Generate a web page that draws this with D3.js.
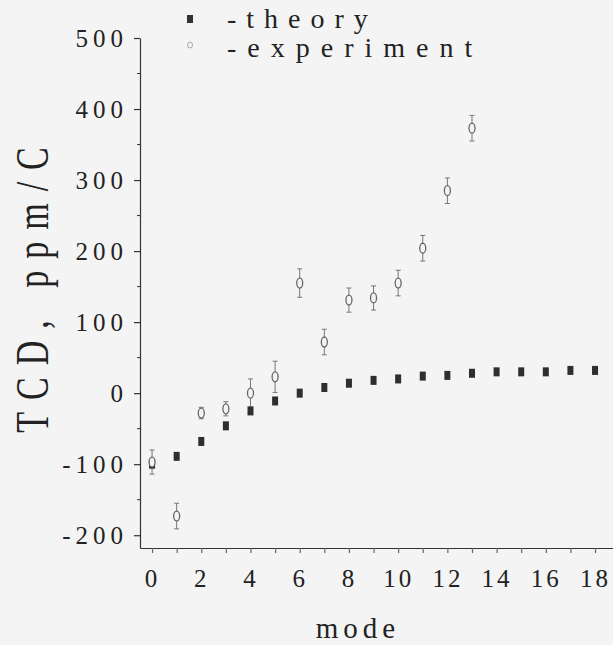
<!DOCTYPE html>
<html>
<head>
<meta charset="utf-8">
<script src="https://cdn.jsdelivr.net/npm/d3@7"></script>
<style>
  body { margin: 0; background: #f4f4f4; }
  svg { display: block; }
  text { font-family: "Liberation Serif", "Times New Roman", serif; fill: #222; }
</style>
</head>
<body>
<div class="chart"></div>
<script>
var theoryMode = [0, 1, 2, 3, 4, 5, 6, 7, 8, 9, 10, 11, 12, 13, 14, 15, 16, 17, 18];
var theoryTCD = [-100, -89, -68, -46, -25, -11, 0, 8, 14, 18, 20, 24, 25, 28, 30, 30, 30, 32, 32];

var expMode = [0, 1, 2, 3, 4, 5, 6, 7, 8, 9, 10, 11, 12, 13];
var expTCD = [-97, -173, -28, -22, 0, 23, 155, 72, 131, 134, 155, 204, 285, 373];
var expErr = [17, 18, 8, 10, 20, 22, 20, 18, 17, 17, 18, 18, 18, 18];

var yTicks = [-200, -100, 0, 100, 200, 300, 400, 500];
var xTickLabels = [0, 2, 4, 6, 8, 10, 12, 14, 16, 18];

document.addEventListener('DOMContentLoaded', function () {
  var width = 613, height = 645;

  var svg = d3.select('div.chart').append('svg')
      .attr('width', width)
      .attr('height', height);

  var xScale = d3.scaleLinear().domain([-0.49, 18.73]).range([140, 613]);
  var yScale = d3.scaleLinear().domain([-218, 500]).range([548, 38]);

  // y axis
  var yAxis = d3.axisLeft(yScale).tickValues(yTicks).tickSize(6).tickPadding(6).tickSizeOuter(0)
      .tickFormat(function (d) { return String(d); });
  var yG = svg.append('g')
      .attr('transform', 'translate(140,0)')
      .call(yAxis);
  yG.selectAll('text')
    .style('font-size', '25px')
    .style('letter-spacing', '5px')
    .attr('fill', '#222');

  // minor y ticks
  svg.append('g').selectAll('line.minor')
    .data(d3.range(-150, 500, 100))
    .enter().append('line')
    .attr('x1', 137).attr('x2', 140)
    .attr('y1', function (d) { return yScale(d); })
    .attr('y2', function (d) { return yScale(d); })
    .attr('stroke', '#333');

  // x axis
  var xAxis = d3.axisBottom(xScale).tickValues(d3.range(0, 19)).tickSize(5).tickPadding(16).tickSizeOuter(0)
      .tickFormat(function (d) { return xTickLabels.indexOf(d) >= 0 ? d : ''; });
  var xG = svg.append('g')
      .attr('transform', 'translate(0,548)')
      .call(xAxis);
  xG.selectAll('text')
    .style('font-size', '25px')
    .style('letter-spacing', '3px')
    .attr('dx', 0)
    .attr('fill', '#222');

  svg.selectAll('.domain, .tick line').attr('stroke', '#333').attr('stroke-width', 1.2);
  xG.selectAll('.tick line').attr('stroke', '#666');

  // axis titles
  svg.append('text')
    .attr('transform', 'translate(48,290) rotate(-90) scale(1,1.35)')
    .attr('text-anchor', 'middle')
    .attr('dx', 6)
    .style('font-size', '34px')
    .style('letter-spacing', '12px')
    .text('TCD, ppm/C');

  svg.append('text')
    .attr('x', 358).attr('y', 638)
    .attr('text-anchor', 'middle')
    .style('font-size', '29px')
    .style('letter-spacing', '5px')
    .text('mode');

  // experiment error bars
  var eb = svg.append('g').attr('stroke', '#777').attr('stroke-width', 1);
  expMode.forEach(function (m, i) {
    var cx = xScale(m);
    var y0 = yScale(expTCD[i] - expErr[i]);
    var y1 = yScale(expTCD[i] + expErr[i]);
    eb.append('line').attr('x1', cx).attr('x2', cx).attr('y1', y0).attr('y2', y1);
    eb.append('line').attr('x1', cx - 2.5).attr('x2', cx + 2.5).attr('y1', y0).attr('y2', y0);
    eb.append('line').attr('x1', cx - 2.5).attr('x2', cx + 2.5).attr('y1', y1).attr('y2', y1);
  });

  // theory squares
  svg.selectAll('rect.theory')
    .data(theoryMode)
    .enter()
    .append('rect')
    .attr('class', 'theory')
    .attr('x', function (d) { return xScale(d) - 3; })
    .attr('y', function (d, i) { return yScale(theoryTCD[i]) - 4.5; })
    .attr('width', 6)
    .attr('height', 9)
    .attr('fill', '#2e2e2e');

  // experiment circles
  svg.selectAll('ellipse.exp')
    .data(expMode)
    .enter()
    .append('ellipse')
    .attr('class', 'exp')
    .attr('cx', function (d) { return xScale(d); })
    .attr('cy', function (d, i) { return yScale(expTCD[i]); })
    .attr('rx', 3)
    .attr('ry', 5)
    .attr('fill', '#f4f4f4')
    .attr('stroke', '#666')
    .attr('stroke-width', 1.3);

  // legend
  svg.append('rect').attr('x', 187).attr('y', 15).attr('width', 6).attr('height', 8).attr('fill', '#333');
  svg.append('ellipse').attr('cx', 190).attr('cy', 45).attr('rx', 2.5).attr('ry', 3)
    .attr('fill', 'none').attr('stroke', '#aaa').attr('stroke-width', 1);
  svg.append('text').attr('x', 227).attr('y', 28)
    .style('font-size', '28px').style('letter-spacing', '10px').text('-theory');
  svg.append('text').attr('x', 227).attr('y', 57)
    .style('font-size', '28px').style('letter-spacing', '11px').text('-experiment');
});
</script>
</body>
</html>
